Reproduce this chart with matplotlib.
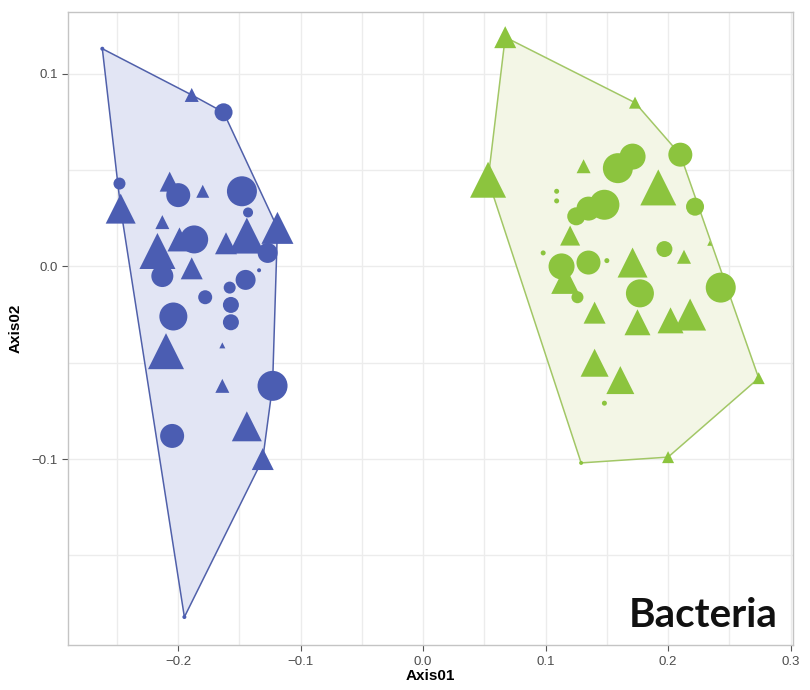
import numpy as np
import matplotlib.pyplot as plt
from matplotlib.patches import Polygon

# ordination scores (Axis01, Axis02), shape and point size
blue_x = [-0.262, -0.189, -0.163, -0.248, -0.247, -0.207, -0.200, -0.180, -0.148, -0.143,
          -0.213, -0.217, -0.199, -0.187, -0.161, -0.144, -0.119, -0.127, -0.213, -0.189,
          -0.145, -0.158, -0.134, -0.178, -0.157, -0.204, -0.157, -0.164, -0.210, -0.164,
          -0.123, -0.205, -0.144, -0.131, -0.195]
blue_y = [0.113, 0.089, 0.080, 0.043, 0.030, 0.044, 0.037, 0.039, 0.039, 0.028,
          0.023, 0.008, 0.014, 0.014, 0.012, 0.016, 0.020, 0.007, -0.005, -0.001,
          -0.007, -0.011, -0.002, -0.016, -0.020, -0.026, -0.029, -0.041, -0.044, -0.062,
          -0.062, -0.088, -0.083, -0.100, -0.182]
blue_shape = ['o', '^', 'o', 'o', '^', '^', 'o', '^', 'o', 'o',
              '^', '^', '^', 'o', '^', '^', '^', 'o', 'o', '^',
              'o', 'o', 'o', 'o', 'o', 'o', 'o', '^', '^', '^',
              'o', 'o', '^', '^', 'o']
blue_size = [4, 14, 18, 12, 30, 20, 24, 13, 30, 10,
             14, 36, 24, 28, 22, 36, 32, 20, 22, 22,
             20, 12, 4, 14, 16, 28, 16, 6, 36, 14,
             30, 24, 30, 22, 4]

green_x = [0.067, 0.173, 0.210, 0.131, 0.159, 0.171, 0.109, 0.109, 0.192, 0.148,
           0.135, 0.125, 0.222, 0.120, 0.098, 0.197, 0.213, 0.234, 0.113, 0.116,
           0.135, 0.150, 0.171, 0.126, 0.177, 0.175, 0.202, 0.218, 0.243, 0.140,
           0.140, 0.161, 0.148, 0.274, 0.200, 0.129, 0.053]
green_y = [0.119, 0.085, 0.058, 0.052, 0.051, 0.057, 0.039, 0.034, 0.041, 0.032,
           0.030, 0.026, 0.031, 0.016, 0.007, 0.009, 0.005, 0.012, 0.000, -0.007,
           0.002, 0.003, 0.002, -0.016, -0.014, -0.029, -0.028, -0.025, -0.011, -0.024,
           -0.050, -0.059, -0.071, -0.058, -0.099, -0.102, 0.045]
green_shape = ['^', '^', 'o', '^', 'o', 'o', 'o', 'o', '^', 'o',
               'o', 'o', 'o', '^', 'o', 'o', '^', '^', 'o', '^',
               'o', 'o', '^', 'o', 'o', '^', '^', '^', 'o', '^',
               '^', '^', 'o', '^', '^', 'o', '^']
green_size = [22, 12, 24, 14, 30, 26, 5, 5, 36, 30,
              24, 18, 18, 20, 5, 16, 14, 5, 26, 28,
              24, 5, 30, 12, 28, 26, 26, 32, 30, 22,
              28, 28, 5, 12, 12, 4, 36]

x_ticks = [-0.2, -0.1, 0.0, 0.1, 0.2, 0.3]
y_ticks = [-0.1, 0.0, 0.1]


def convex_hull(pts):
    pts = sorted(set(pts))
    def cross(o, a, b):
        return (a[0] - o[0]) * (b[1] - o[1]) - (a[1] - o[1]) * (b[0] - o[0])
    lower, upper = [], []
    for p in pts:
        while len(lower) >= 2 and cross(lower[-2], lower[-1], p) <= 0:
            lower.pop()
        lower.append(p)
    for p in reversed(pts):
        while len(upper) >= 2 and cross(upper[-2], upper[-1], p) <= 0:
            upper.pop()
        upper.append(p)
    return lower[:-1] + upper[:-1]


fig = plt.figure(figsize=(8.1, 6.9), dpi=100)
ax = fig.add_axes([0.084, 0.065, 0.895, 0.918])

groups = [
    (blue_x, blue_y, blue_shape, blue_size, '#4b5db2', '#e2e5f4', '#5060aa'),
    (green_x, green_y, green_shape, green_size, '#8cc43e', '#f3f6e6', '#a2c766'),
]
for xs, ys, shapes, sizes, col, fill, edge in groups:
    hull = convex_hull(list(zip(xs, ys)))
    ax.add_patch(Polygon(hull, closed=True, facecolor=fill, edgecolor=edge,
                         linewidth=1.1, zorder=2))
    xs, ys, sizes = np.array(xs), np.array(ys), np.array(sizes, dtype=float)
    shapes = np.array(shapes)
    area = (0.72 * sizes) ** 2
    for m in ['o', '^']:
        sel = shapes == m
        ax.scatter(xs[sel], ys[sel], s=area[sel], marker=m, color=col,
                   linewidths=0, zorder=3)

ax.set_xlim(-0.290, 0.302)
ax.set_ylim(-0.1966, 0.1322)
ax.set_xticks(x_ticks)
ax.set_yticks(y_ticks)
ax.set_xticks(np.arange(-0.25, 0.31, 0.1), minor=True)
ax.set_yticks([-0.15, -0.05, 0.05], minor=True)
ax.grid(which='both', color='#ececec', linewidth=1.0, zorder=0)
ax.set_axisbelow(True)
ax.tick_params(which='major', length=4, color='#555555', labelsize=9.5,
               labelcolor='#4d4d4d')
ax.tick_params(which='minor', length=0)
for lab in ax.get_xticklabels() + ax.get_yticklabels():
    lab.set_family('Liberation Sans')
for sp in ax.spines.values():
    sp.set_color('#c4c4c4')
    sp.set_linewidth(1.0)

ax.set_xlabel('Axis01', fontsize=11, fontweight='bold', family='Liberation Sans', labelpad=1)
ax.set_ylabel('Axis02', fontsize=11, fontweight='bold', family='Liberation Sans', labelpad=6)

ax.text(0.979, 0.028, 'Bacteria', transform=ax.transAxes, ha='right', va='baseline',
        fontsize=29, fontweight='bold', family='Lato', color='#111111')

fig.savefig('out.png', dpi=100)
